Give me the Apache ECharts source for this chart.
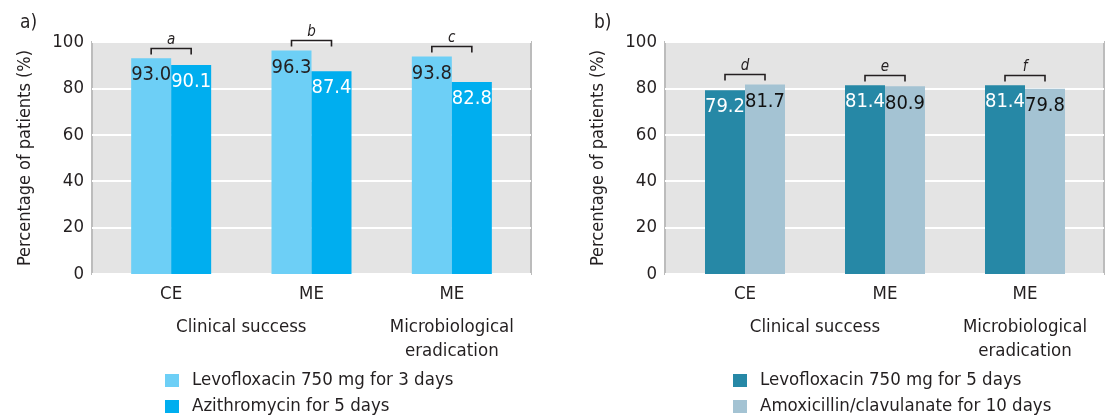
<!DOCTYPE html>
<html>
<head>
<meta charset="utf-8">
<script src="https://cdn.jsdelivr.net/npm/echarts@6/dist/echarts.min.js"></script>
<style>html,body{margin:0;padding:0;background:#fff}#c{width:1105px;height:416px}</style>
</head>
<body>
<div id="c"></div>
<script>
var categories = ['CE', 'ME', 'ME'];
var groupLabels = ['', '', 'Clinical success', '', '', 'Microbiological\neradication', ''];
var yTicks = [0, 20, 40, 60, 80, 100];

var leftNames = ['Levofloxacin 750 mg for 3 days', 'Azithromycin for 5 days'];
var leftA = [93.0, 96.3, 93.8];
var leftB = [90.1, 87.4, 82.8];
var leftLetters = ['a', 'b', 'c'];

var rightNames = ['Levofloxacin 750 mg for 5 days', 'Amoxicillin/clavulanate for 10 days'];
var rightA = [79.2, 81.4, 81.4];
var rightB = [81.7, 80.9, 79.8];
var rightLetters = ['d', 'e', 'f'];

var FONT = "'Liberation Sans Narrow', 'DejaVu Sans Condensed', sans-serif";
var TXT = '#231f20';
var FS = 18.5;

var chart = echarts.init(document.getElementById('c'), null, {renderer: 'canvas'});

function panelY(gi) {
  return {
    gridIndex: gi, type: 'value', min: yTicks[0], max: yTicks[yTicks.length - 1], interval: 20,
    axisLine: {show: false}, axisTick: {show: false},
    axisLabel: {color: TXT, fontSize: FS, fontFamily: FONT, margin: 8},
    splitLine: {show: true, lineStyle: {color: '#ffffff', width: 2}},
    name: 'Percentage of patients (%)', nameLocation: 'middle', nameGap: 58, nameRotate: 90,
    nameTextStyle: {color: TXT, fontSize: 18, fontFamily: FONT}
  };
}
function dataY(gi) {
  return {gridIndex: gi, type: 'value', min: 0, max: 100, show: false, splitLine: {show: false}};
}
function panelX(gi) {
  return {gridIndex: gi, type: 'category', data: categories, show: false};
}
function catX(gi) {
  return {
    gridIndex: gi, type: 'category', data: categories,
    axisLine: {show: false}, axisTick: {show: false},
    axisLabel: {color: TXT, fontSize: FS, fontFamily: FONT, margin: 11, interval: 0}
  };
}
function groupX(gi) {
  return {
    gridIndex: gi, type: 'category', data: groupLabels, boundaryGap: false, position: 'bottom', offset: 30,
    axisLine: {show: false}, axisTick: {show: false},
    axisLabel: {color: TXT, fontSize: FS, lineHeight: 24, fontFamily: FONT, margin: 11, interval: 0}
  };
}
function barSeries(name, data, color, labelColor, xi, yi) {
  return {
    type: 'bar', name: name, data: data, xAxisIndex: xi, yAxisIndex: yi,
    barWidth: 40, barGap: '0%', itemStyle: {color: color}, z: 3,
    label: {show: true, position: 'insideTop', distance: 7, color: labelColor, fontSize: 20, fontFamily: FONT,
      formatter: function (p) { return p.value.toFixed(1); }}
  };
}
function bracketSeries(a, b, letters, xi, yi) {
  var d = a.map(function (v, i) { return [i, v, b[i], letters[i]]; });
  return {
    type: 'custom', xAxisIndex: xi, yAxisIndex: yi, data: d, z: 4, silent: true,
    renderItem: function (params, api) {
      var top = Math.max(api.value(1), api.value(2));
      var p = api.coord([api.value(0), top]);
      var x = p[0], y = Math.round(p[1] - 10.5) + 0.5;
      return {
        type: 'group', children: [
          {type: 'polyline', shape: {points: [[x - 20, y + 6], [x - 20, y], [x + 20, y], [x + 20, y + 6]]},
            style: {stroke: '#231f20', lineWidth: 1.6, fill: null}},
          {type: 'text', style: {text: letters[api.value(0)], x: x, y: y - 1, textAlign: 'center', textVerticalAlign: 'bottom',
            font: 'italic 15px ' + FONT, fill: TXT}}
        ]
      };
    }
  };
}
function legendItem(name, left, top) {
  return {data: [name], orient: 'vertical', left: left, top: top, padding: 0, itemWidth: 14, itemHeight: 13,
    icon: 'rect', textStyle: {color: TXT, fontSize: FS, fontFamily: FONT, padding: [0, 0, 0, 8]}};
}

var option = {
  animation: false,
  textStyle: {fontFamily: FONT},
  grid: [
    {left: 92, top: 42, width: 439, height: 232, show: true, backgroundColor: '#e4e4e4', borderColor: '#bcbcbc', borderWidth: 2},
    {left: 101, top: 42, width: 421, height: 232},
    {left: 665, top: 42, width: 439, height: 232, show: true, backgroundColor: '#e4e4e4', borderColor: '#bcbcbc', borderWidth: 2},
    {left: 675, top: 42, width: 420, height: 232}
  ],
  xAxis: [panelX(0), catX(1), groupX(1), panelX(2), catX(3), groupX(3)],
  yAxis: [panelY(0), dataY(1), panelY(2), dataY(3)],
  legend: [
    legendItem(leftNames[0], 165, 371),
    legendItem(leftNames[1], 165, 397),
    legendItem(rightNames[0], 733, 371),
    legendItem(rightNames[1], 733, 397)
  ],
  graphic: [
    {type: 'text', left: 20, top: 14, style: {text: 'a)', font: '19px ' + FONT, fill: TXT}},
    {type: 'text', left: 594, top: 14, style: {text: 'b)', font: '19px ' + FONT, fill: TXT}}
  ],
  series: [
    barSeries(leftNames[0], leftA, '#6dcff6', '#231f20', 1, 1),
    barSeries(leftNames[1], leftB, '#00aeef', '#ffffff', 1, 1),
    bracketSeries(leftA, leftB, leftLetters, 1, 1),
    barSeries(rightNames[0], rightA, '#2688a6', '#ffffff', 4, 3),
    barSeries(rightNames[1], rightB, '#a4c3d3', '#111111', 4, 3),
    bracketSeries(rightA, rightB, rightLetters, 4, 3)
  ]
};
chart.setOption(option);
</script>
</body>
</html>
